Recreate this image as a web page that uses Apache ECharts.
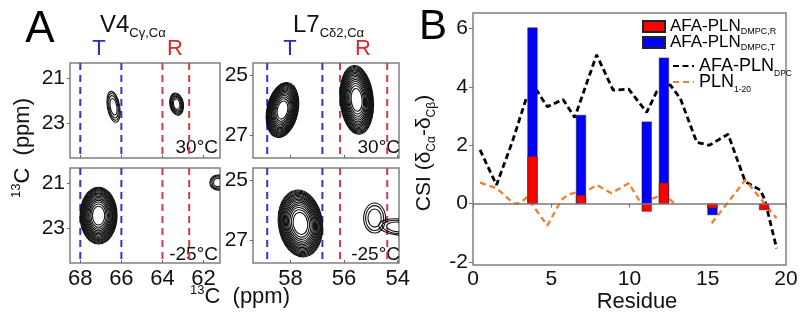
<!DOCTYPE html>
<html><head><meta charset="utf-8">
<script src="https://cdn.jsdelivr.net/npm/echarts@6/dist/echarts.min.js"></script>
<style>html,body{margin:0;padding:0;background:#fff}#c{width:800px;height:325px}</style>
</head><body><div id="c"></div>
<script>
// ---------- Panel A data ----------
const v4XTicks = [68, 66, 64, 62];
const l7XTicks = [58, 56, 54];
const v4YTicks = [21, 23];
const l7YTicks = [25, 27];
const v4TLines = [68.0, 66.0];
const v4RLines = [64.0, 62.7];
const l7TLines = [58.87, 56.81];
const l7RLines = [56.15, 54.39];
// peak: [13C ppm (x), 13C ppm (y), half width x, half width y, tilt deg, contour levels]
const v4Peaks30 = [[66.38, 22.26, 0.30, 0.70, 10, 4], [63.31, 22.14, 0.33, 0.50, 10, 6]];
const v4PeaksM25 = [[67.11, 22.43, 0.90, 1.27, 0, 16], [61.30, 20.95, 0.40, 0.34, 0, 4]];
const l7Peaks30 = [[58.30, 26.17, 0.58, 0.93, -12, 16], [55.53, 25.83, 0.62, 1.15, 5, 16]];
const l7PeaksM25 = [[57.63, 26.45, 0.82, 1.12, 8, 16], [54.86, 26.27, 0.41, 0.50, 0, 3], [53.96, 26.57, 0.75, 0.27, -5, 3]];

// ---------- Panel B data ----------
const residueTicks = [0, 5, 10, 15, 20];
const csiTicks = [-2, 0, 2, 4, 6];
const barResidues = [3.8, 6.9, 11.1, 12.2, 15.3, 18.6];
const csiT = [6.03, 3.04, 2.81, 5.0, -0.39, null];
const csiR = [1.63, 0.30, -0.27, 0.72, -0.16, -0.22];
const dpcResidues = [0.45, 1.5, 2.5, 3.4, 4.05, 4.75, 5.75, 6.5, 7.9, 8.95, 9.95, 11.1, 11.75, 12.6, 13.25, 14.3, 15.1, 16.3, 17.4, 18.35, 18.65, 19.4];
const dpcCSI = [1.84, 0.64, 2.1, 3.6, 3.9, 3.32, 3.57, 2.95, 5.1, 3.89, 3.92, 3.13, 3.85, 4.07, 3.6, 2.1, 2.0, 2.38, 0.75, 0.47, 0.13, -1.53];
const plnResidues = [0.45, 1.5, 2.4, 2.7, 3.0, 3.45, 4.75, 5.65, 6.1, 7.45, 7.9, 8.85, 9.95, 10.7, 11.6, 12.15, 12.9, 14.0, 15.25, 17.4, 19.4];
const plnCSI = [0.72, 0.53, 0.10, 0.0, 0.02, 0.22, -0.75, 0.13, 0.32, 0.49, 0.64, 0.36, 0.70, 0.05, 0.2, 0.33, 0.0, null, -0.67, 0.81, -0.5];

const FONT = '"Liberation Sans", Arial, Helvetica, sans-serif';
const BLUE = '#3434d4', RED = '#d23c48';

function ringFactors(n) { const f = []; for (let k = 0; k < n; k++) f.push(Math.sqrt(1 - k * 0.95 / n)); return f; }
function renderPeak(params, api) {
  const c = api.coord([api.value(0), api.value(1)]);
  const s = api.size([api.value(2) * 2, api.value(3) * 2]);
  const rot = api.value(4) * Math.PI / 180;
  const n = api.value(5);
  return { type: 'group', children: ringFactors(n).map(f => ({
    type: 'ellipse', shape: { cx: c[0], cy: c[1], rx: s[0] / 2 * f, ry: s[1] / 2 * f },
    rotation: rot, originX: c[0], originY: c[1],
    style: { fill: 'none', stroke: '#111', lineWidth: 1.1 }
  })) };
}
function renderVLine(params, api) {
  const cs = params.coordSys;
  const p = api.coord([api.value(0), api.value(1)]);
  return { type: 'line', shape: { x1: p[0], y1: cs.y, x2: p[0], y2: cs.y + cs.height },
    style: { stroke: api.visual('color'), lineWidth: 2, lineDash: [7, 5] } };
}

const gridBox = { show: true, borderColor: '#808080', borderWidth: 1.5, backgroundColor: 'transparent', outerBoundsMode: 'none', containLabel: false };
const grids = [
  Object.assign({ left: 70, top: 63, width: 150, height: 95 }, gridBox),
  Object.assign({ left: 70, top: 168, width: 150, height: 95 }, gridBox),
  Object.assign({ left: 253, top: 63, width: 146, height: 95 }, gridBox),
  Object.assign({ left: 253, top: 168, width: 146, height: 95 }, gridBox),
  Object.assign({ left: 473, top: 13, width: 313, height: 252 }, gridBox)
];
const v4XRange = [61.2, 68.5], l7XRange = [53.95, 59.4];
const v4YRange = [20.3, 24.55], l7YRange = [24.6, 27.77];

function ax(gi, range, ticks, showLabel, inverse, fs, tickInside) {
  return { type: 'value', gridIndex: gi, min: range[0], max: range[1], inverse: inverse,
    axisLine: { show: false }, splitLine: { show: false },
    axisTick: { show: true, inside: tickInside, length: 3, customValues: ticks, lineStyle: { color: '#666' } },
    axisLabel: { show: showLabel, customValues: ticks, fontSize: fs, fontFamily: FONT, color: '#111', margin: 5 } };
}
const xAxes = [
  ax(0, v4XRange, v4XTicks, false, true, 22, true),
  ax(1, v4XRange, v4XTicks, true, true, 22, true),
  ax(2, l7XRange, l7XTicks, false, true, 22, true),
  ax(3, l7XRange, l7XTicks, true, true, 22, true),
  { type: 'value', gridIndex: 4, min: 0, max: 20, axisLine: { show: false }, splitLine: { show: false },
    axisTick: { show: true, length: 4, customValues: residueTicks, lineStyle: { color: '#777' } },
    axisLabel: { customValues: residueTicks, fontSize: 21, fontFamily: FONT, color: '#111', margin: 4 } }
];
const yAxes = [
  ax(0, v4YRange, v4YTicks, true, true, 21, false),
  ax(1, v4YRange, v4YTicks, true, true, 21, false),
  ax(2, l7YRange, l7YTicks, true, true, 21, false),
  ax(3, l7YRange, l7YTicks, true, true, 21, false),
  { type: 'value', gridIndex: 4, min: -2.1, max: 6.53, axisLine: { show: false }, splitLine: { show: false },
    axisTick: { show: true, length: 4, customValues: csiTicks, lineStyle: { color: '#777' } },
    axisLabel: { customValues: csiTicks, fontSize: 21, fontFamily: FONT, color: '#111', margin: 5 } }
];

function vlineSeries(gi, xs, yRange, color) {
  return { type: 'custom', xAxisIndex: gi, yAxisIndex: gi, z: 1, silent: true, clip: true,
    itemStyle: { color: color }, renderItem: renderVLine, data: xs.map(v => [v, yRange[0]]) };
}
function peakSeries(gi, peaks) {
  return { type: 'custom', xAxisIndex: gi, yAxisIndex: gi, z: 2, silent: true, clip: true,
    encode: { x: 0, y: 1 }, renderItem: renderPeak, data: peaks };
}

const NAME_R = 'AFA-PLN DMPC,R', NAME_T = 'AFA-PLN DMPC,T', NAME_DPC = 'AFA-PLN DPC', NAME_PLN = 'PLN 1-20';
const legendLabels = {};
legendLabels[NAME_R] = '{m|AFA-PLN}{s|DMPC,R}';
legendLabels[NAME_T] = '{m|AFA-PLN}{s|DMPC,T}';
legendLabels[NAME_DPC] = '{m|AFA-PLN}{s|DPC}';
legendLabels[NAME_PLN] = '{m|PLN}{s|1-20}';

const series = [
  vlineSeries(0, v4TLines, v4YRange, BLUE), vlineSeries(0, v4RLines, v4YRange, RED), peakSeries(0, v4Peaks30),
  vlineSeries(1, v4TLines, v4YRange, BLUE), vlineSeries(1, v4RLines, v4YRange, RED), peakSeries(1, v4PeaksM25),
  vlineSeries(2, l7TLines, l7YRange, BLUE), vlineSeries(2, l7RLines, l7YRange, RED), peakSeries(2, l7Peaks30),
  vlineSeries(3, l7TLines, l7YRange, BLUE), vlineSeries(3, l7RLines, l7YRange, RED), peakSeries(3, l7PeaksM25),
  { name: NAME_DPC, type: 'line', xAxisIndex: 4, yAxisIndex: 4, z: 2, symbol: 'none', silent: true,
    lineStyle: { color: '#000', width: 2.8, type: [6, 3.5] }, itemStyle: { color: '#000' },
    data: dpcResidues.map((x, i) => [x, dpcCSI[i]]) },
  { name: NAME_PLN, type: 'line', xAxisIndex: 4, yAxisIndex: 4, z: 2, symbol: 'none', silent: true, connectNulls: false,
    lineStyle: { color: '#ef7f2f', width: 2.3, type: [6, 4] }, itemStyle: { color: '#ef7f2f' },
    data: plnResidues.map((x, i) => [x, plnCSI[i] === null ? '-' : plnCSI[i]]),
    markLine: { silent: true, symbol: 'none', label: { show: false }, animation: false,
      lineStyle: { color: '#7a7a7a', width: 1.5, type: 'solid' }, data: [{ yAxis: 0 }] } },
  { name: NAME_T, type: 'bar', xAxisIndex: 4, yAxisIndex: 4, z: 3, barWidth: 10, silent: true,
    itemStyle: { color: '#0000ff', borderColor: '#222', borderWidth: 0.5 },
    data: barResidues.map((x, i) => [x, csiT[i] === null ? '-' : csiT[i]]) },
  { name: NAME_R, type: 'bar', xAxisIndex: 4, yAxisIndex: 4, z: 4, barWidth: 10, barGap: '-100%', silent: true,
    itemStyle: { color: '#ff0000', borderColor: '#222', borderWidth: 0.5 },
    data: barResidues.map((x, i) => [x, csiR[i]]) }
];

function txt(x, y, text, fs, opts) {
  opts = opts || {};
  return { type: 'text', x: x, y: y, rotation: opts.rotation || 0, silent: true,
    style: { text: text, fontSize: fs, fontFamily: FONT, fill: opts.fill || '#111',
      align: opts.align || 'center', verticalAlign: 'middle', rich: opts.rich } };
}
const titleRich = { m: { fontSize: 24, lineHeight: 30, fontFamily: FONT, fill: '#111' }, s: { fontSize: 13, lineHeight: 13, verticalAlign: 'bottom', fontFamily: FONT, fill: '#111' } };
const ppmRich = { p: { fontSize: 13, lineHeight: 13, verticalAlign: 'top', fontFamily: FONT, fill: '#111' }, m: { fontSize: 22, lineHeight: 26, fontFamily: FONT, fill: '#111' } };
const csiRich = { m: { fontSize: 21, lineHeight: 27, fontFamily: FONT, fill: '#111' }, s: { fontSize: 12, lineHeight: 12, verticalAlign: 'bottom', fontFamily: FONT, fill: '#111' } };

const graphic = [
  txt(40, 30, 'A', 44, { fill: '#000' }),
  txt(433, 27, 'B', 42, { fill: '#000' }),
  txt(100, 25, '{m|V4}{s|Cγ,Cα}', 24, { align: 'left', rich: titleRich }),
  txt(293, 25, '{m|L7}{s|Cδ2,Cα}', 24, { align: 'left', rich: titleRich }),
  txt(99, 49, 'T', 22, { fill: '#2a2ac8' }),
  txt(175, 49, 'R', 22, { fill: '#d42a2a' }),
  txt(290, 49, 'T', 22, { fill: '#2a2ac8' }),
  txt(363, 49, 'R', 22, { fill: '#d42a2a' }),
  txt(218, 148, '30°C', 19, { align: 'right' }),
  txt(400, 148, '30°C', 19, { align: 'right' }),
  txt(218, 255, '-25°C', 19, { align: 'right' }),
  txt(400, 255, '-25°C', 19, { align: 'right' }),
  txt(240, 297, '{p|13}{m|C  (ppm)}', 22, { rich: ppmRich }),
  txt(23, 148, '{p|13}{m|C  (ppm)}', 22, { rich: ppmRich, rotation: Math.PI / 2 }),
  txt(637, 302, 'Residue', 22),
  txt(424, 153, '{m|CSI (δ}{s|Cα}{m|-δ}{s|Cβ}{m|)}', 21, { rich: csiRich, rotation: Math.PI / 2 })
];

const option = {
  animation: false,
  backgroundColor: '#fff',
  grid: grids, xAxis: xAxes, yAxis: yAxes, series: series, graphic: graphic,
  legend: [
    { show: true, orient: 'vertical', left: 642, top: 18, padding: 0, itemGap: -2, itemWidth: 22, itemHeight: 11,
      icon: 'rect', selectedMode: false, data: [NAME_R, NAME_T], formatter: n => legendLabels[n],
      textStyle: { color: '#000', fontFamily: FONT, rich: {
        m: { fontSize: 17, lineHeight: 19, fontFamily: FONT, color: '#000' },
        s: { fontSize: 9, lineHeight: 9, verticalAlign: 'bottom', fontFamily: FONT, color: '#000' } } } },
    { show: true, orient: 'vertical', left: 672, top: 57, padding: 0, itemGap: -5, itemWidth: 21, itemHeight: 12,
      selectedMode: false, data: [NAME_DPC, NAME_PLN], formatter: n => legendLabels[n],
      itemStyle: { color: 'rgba(0,0,0,0)', borderColor: 'rgba(0,0,0,0)', borderWidth: 0 },
      textStyle: { color: '#000', fontFamily: FONT, rich: {
        m: { fontSize: 18, lineHeight: 24, fontFamily: FONT, color: '#000' },
        s: { fontSize: 8.5, lineHeight: 8.5, verticalAlign: 'bottom', fontFamily: FONT, color: '#000' } } } }
  ]
};
const chart = echarts.init(document.getElementById('c'), null, { renderer: 'canvas' });
chart.setOption(option);
</script></body></html>
